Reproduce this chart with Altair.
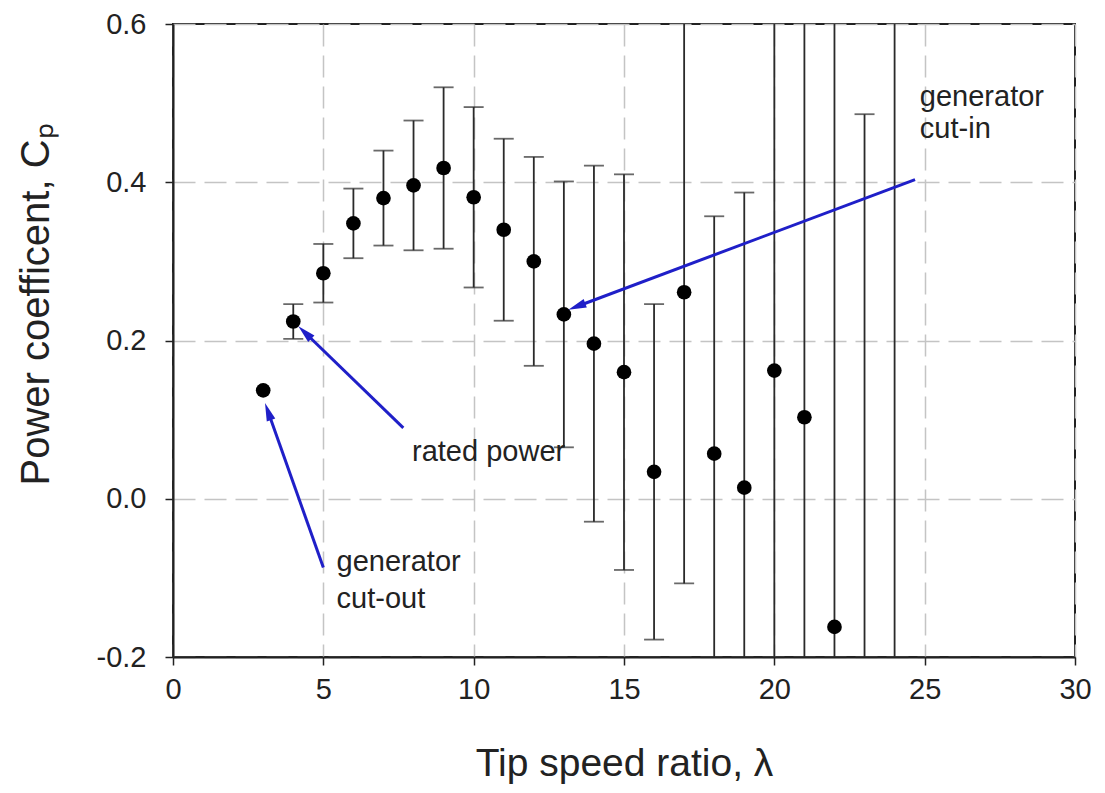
import math
import altair as alt
import pandas as pd

# ---- data ----
tsr = [3, 4, 5, 6, 7, 8, 9, 10, 11, 12, 13, 14, 15, 16, 17, 18, 19, 20, 21, 22, 23, 24]
cp = [0.137, 0.224, 0.285, 0.348, 0.380, 0.396, 0.418, 0.381, 0.340, 0.300, 0.233, 0.196,
      0.160, 0.034, 0.261, 0.057, 0.014, 0.162, 0.103, -0.162, -0.350, -0.400]
cp_err = [None, 0.022, 0.037, 0.044, 0.060, 0.082, 0.102, 0.114, 0.115, 0.132, 0.168, 0.225,
          0.250, 0.212, 0.368, 0.300, 0.373, 0.550, 0.600, 0.800, 0.836, 1.100]

x_ticks = [0, 5, 10, 15, 20, 25, 30]
y_ticks = [-0.2, 0.0, 0.2, 0.4, 0.6]

ann_text = ["generator", "cut-out", "rated power", "generator", "cut-in"]
ann_x = [5.44, 5.44, 7.95, 24.84, 24.84]
ann_y = [-0.0915, -0.1382, 0.0475, 0.4960, 0.4556]

arrow_tail_x = [5.00, 7.66, 24.68]
arrow_tail_y = [-0.087, 0.0896, 0.4034]
arrow_head_x = [3.06, 4.17, 13.15]
arrow_head_y = [0.121, 0.218, 0.239]

# ---- layout ----
W, H = 902, 633
X_DOM = [0, 30]
Y_DOM = [-0.2, 0.6]
FONT = "Liberation Sans"
BLUE = "#1f1fc8"
HEAD_LEN = 18.0

df = pd.DataFrame({"tsr": tsr, "cp": cp, "err": cp_err})
err_df = df.dropna(subset=["err"]).copy()
err_df["lo"] = err_df["cp"] - err_df["err"]
err_df["hi"] = err_df["cp"] + err_df["err"]

ann_df = pd.DataFrame({"x": ann_x, "y": ann_y, "text": ann_text})

# arrows: shaft + rotated triangular head
sx = W / (X_DOM[1] - X_DOM[0])
sy = H / (Y_DOM[1] - Y_DOM[0])
rows = []
for tx, ty, hx, hy in zip(arrow_tail_x, arrow_tail_y, arrow_head_x, arrow_head_y):
    dx = (hx - tx) * sx
    dy = -(hy - ty) * sy
    L = math.hypot(dx, dy)
    ux, uy = dx / L, dy / L
    back = HEAD_LEN / 2.0
    cx = hx - back * ux / sx
    cy = hy + back * uy / sy
    ang = math.degrees(math.atan2(dx, -dy)) % 360
    rows.append({"tx": tx, "ty": ty, "cx": cx, "cy": cy, "angle": ang})
arr_df = pd.DataFrame(rows)

xscale = alt.Scale(domain=X_DOM, nice=False, zero=False)
yscale = alt.Scale(domain=Y_DOM, nice=False, zero=False)

X_TITLE = "Tip speed ratio, λ"
Y_TITLE = "Power coefficent, Cₚ"

x_axis = alt.Axis(
    values=x_ticks, title=X_TITLE, grid=True,
    gridDash=[22, 9], gridColor="#c4c4c4", gridWidth=1.5,
    domainColor="#222", domainWidth=2, tickColor="#222", tickWidth=1.5, tickSize=8,
    labelFont=FONT, labelFontSize=29, labelColor="#222", labelPadding=10, labelFlush=False,
    titleFont=FONT, titleFontSize=39, titleFontWeight="normal", titleColor="#222",
    titleY=118, titleBaseline="alphabetic",
)
y_axis = alt.Axis(
    values=y_ticks, title=Y_TITLE, grid=True,
    gridDash=[22, 9], gridColor="#c4c4c4", gridWidth=1.5,
    domainColor="#222", domainWidth=2, tickColor="#222", tickWidth=1.5, tickSize=8,
    labelFont=FONT, labelFontSize=29, labelColor="#222", labelPadding=19, labelFlush=False,
    labelExpr="replace(format(datum.value, '.1f'), '\u2212', '-')",
    titleFont=FONT, titleFontSize=40, titleFontWeight="normal", titleColor="#222",
    titleX=-125, titleY=280, titleBaseline="alphabetic", titleAlign="center", titleAngle=270,
)


def X(field):
    return alt.X(field, scale=xscale, axis=x_axis, title=X_TITLE)


def Y(field):
    return alt.Y(field, scale=yscale, axis=y_axis, title=Y_TITLE)


bars = alt.Chart(err_df).mark_rule(color="#2a2a2a", strokeWidth=1.8, clip=True).encode(
    x=X("tsr:Q"), y=Y("lo:Q"), y2="hi:Q",
)

caps = alt.Chart(err_df).transform_fold(["lo", "hi"], as_=["end", "val"]).mark_tick(
    orient="horizontal", size=20, thickness=1.8, color="#2a2a2a", clip=True
).encode(x=X("tsr:Q"), y=Y("val:Q"))

points = alt.Chart(df).mark_circle(size=215, color="black", opacity=1, clip=True).encode(
    x=X("tsr:Q"), y=Y("cp:Q"),
)

shafts = alt.Chart(arr_df).mark_rule(color=BLUE, strokeWidth=3).encode(
    x=X("tx:Q"), y=Y("ty:Q"), x2="cx:Q", y2="cy:Q",
)

heads = alt.Chart(arr_df).mark_point(
    shape="M0,-1L0.5,1L-0.5,1Z", filled=True, color=BLUE, opacity=1,
    size=HEAD_LEN * HEAD_LEN, strokeWidth=0,
).encode(
    x=X("cx:Q"), y=Y("cy:Q"),
    angle=alt.Angle("angle:Q", scale=None),
)

labels = alt.Chart(ann_df).mark_text(
    align="left", baseline="alphabetic", font=FONT, fontSize=29, color="#222"
).encode(
    x=X("x:Q"), y=Y("y:Q"), text="text:N",
)

chart = alt.layer(bars, caps, points, shafts, heads, labels).properties(
    width=W, height=H,
    padding={"left": 165, "top": 16, "right": 22, "bottom": 128},
    autosize=alt.AutoSizeParams(type="none"),
    background="white",
).configure_view(stroke="#222", strokeWidth=2)

chart.save("out.html", embed_options={"renderer": "svg", "actions": False})
